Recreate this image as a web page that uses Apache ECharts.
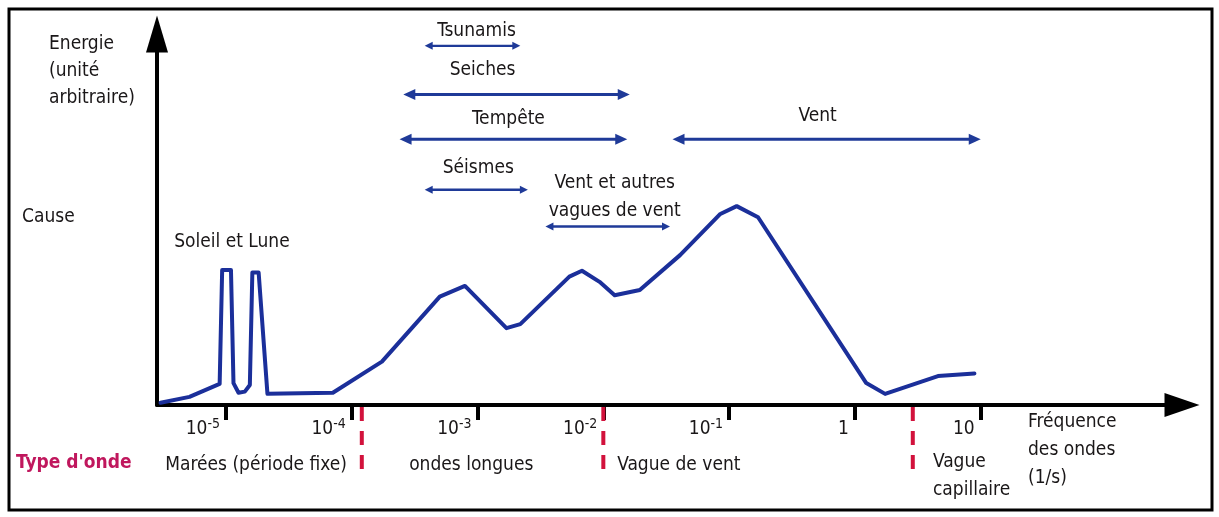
<!DOCTYPE html>
<html><head><meta charset="utf-8">
<script src="https://cdn.jsdelivr.net/npm/echarts@6/dist/echarts.min.js"></script>
<style>html,body{margin:0;padding:0;background:#fff}#c{width:1219px;height:517px}</style>
</head><body><div id="c"></div>
<script>
// ================= DATA =================
// x values are log10(frequency in 1/s); energy in arbitrary units (0-100)
const tickExponents = [-5, -4, -3, -2, -1, 0, 1];
const tickBase = ['10', '10', '10', '10', '10', '1', '10'];
const tickSup  = ['-5', '-4', '-3', '-2', '-1', '', ''];

const spectrumLogFreq = [-5.52, -5.29, -5.05, -5.03, -4.96, -4.94, -4.90, -4.85, -4.81, -4.79, -4.74, -4.67,
  -4.15, -3.76, -3.30, -3.10, -2.77, -2.66, -2.27, -2.17, -2.03, -1.91, -1.71, -1.39, -1.07, -0.94, -0.77,
  0.09, 0.24, 0.66, 0.95];
const spectrumEnergy = [0.6, 2.2, 5.7, 36.4, 36.4, 5.9, 3.3, 3.6, 5.4, 35.7, 35.7, 3.0,
  3.3, 11.7, 29.2, 32.1, 20.7, 21.8, 34.6, 36.2, 33.2, 29.6, 31.0, 40.4, 51.5, 53.6, 50.6,
  5.9, 3.0, 7.8, 8.5];

const causeNames = ['Tsunamis', 'Seiches', 'Tempête', 'Séismes', 'Vent', 'Vent et autres\nvagues de vent', 'Soleil et Lune'];
const causeFrom  = [-3.42, -3.59, -3.62, -3.42, -1.45, -2.46, -5.00];
const causeTo    = [-2.66, -1.79, -1.81, -2.60,  1.00, -1.47, -5.00];
const causeLevel = [96.8, 83.7, 71.6, 58.0, 71.6, 48.1, 36.4];

const waveTypeBounds = [-3.92, -2.00, 0.46];
const waveTypeNames = ['Marées (période fixe)', 'ondes longues', 'Vague de vent', 'Vague\ncapillaire'];
const waveTypeAt = [-4.76, -3.05, -1.40, 0.62];

// ================= STYLE =================
const FONT = "'Liberation Sans Narrow', 'DejaVu Sans Condensed', 'Noto Sans', sans-serif";
const TXT = '#1a1718';
const CURVE = '#1b2f9a';
const ARROW = '#1f3a98';
const RED = '#d2123c';
const causeDx = [4, -34, -5, 2, -9, 7, 6];
const causeDy = [-15, -24, -20, -22, -23, -29, -28];
const causeBig = [false, true, true, false, true, false, null];
const waveTypeAlign = ['center', 'center', 'center', 'left'];

const chart = echarts.init(document.getElementById('c'), null, {renderer: 'canvas'});

const option = {
  backgroundColor: '#fff',
  animation: false,
  grid: {left: 157, right: 37, top: 34, bottom: 112, containLabel: false},
  xAxis: {
    type: 'value', min: -5.548, max: 2.60,
    axisLine: {show: true, onZero: false, symbol: ['none', 'triangle'], symbolSize: [24, 35],
      lineStyle: {color: '#000', width: 4}},
    axisTick: {show: true, customValues: tickExponents, length: 15, inside: false,
      lineStyle: {color: '#000', width: 4}},
    axisLabel: {show: true, customValues: tickExponents, align: 'right', margin: 12,
      padding: [0, 6, 0, 0],
      formatter: function (v) {
        const i = tickExponents.indexOf(Math.round(v));
        if (i < 0) return '';
        return tickSup[i] ? '{b|' + tickBase[i] + '}{s|' + tickSup[i] + '}' : '{b|' + tickBase[i] + '}';
      },
      rich: {
        b: {fontFamily: FONT, fontSize: 19, color: TXT, lineHeight: 22, verticalAlign: 'bottom'},
        s: {fontFamily: FONT, fontSize: 14, color: TXT, lineHeight: 22, verticalAlign: 'top', padding: [0, 0, 8, 0]}
      }},
    splitLine: {show: false}
  },
  yAxis: {
    type: 'value', min: 0, max: 100,
    axisLine: {show: true, onZero: false, symbol: ['none', 'triangle'], symbolSize: [22, 37],
      lineStyle: {color: '#000', width: 4}},
    axisTick: {show: false}, axisLabel: {show: false}, splitLine: {show: false}
  },
  series: [
    {
      name: 'Spectre', type: 'line', symbol: 'none', smooth: false, z: 5,
      lineStyle: {color: CURVE, width: 4, join: 'round', cap: 'round'},
      data: spectrumLogFreq.map((x, i) => [x, spectrumEnergy[i]])
    },
    {
      name: 'Causes', type: 'custom', z: 6, clip: false,
      data: causeFrom.map((f, i) => [f, causeTo[i], causeLevel[i]]),
      renderItem: function (params, api) {
        const i = params.dataIndex;
        const p1 = api.coord([api.value(0), api.value(2)]);
        const p2 = api.coord([api.value(1), api.value(2)]);
        const children = [];
        if (causeBig[i] !== null) {
          const big = causeBig[i];
          const L = big ? 12 : 8, W = big ? 5.5 : 4;
          children.push(
            {type: 'line', shape: {x1: p1[0] + L * 0.6, y1: p1[1], x2: p2[0] - L * 0.6, y2: p2[1]},
              style: {stroke: ARROW, lineWidth: big ? 3 : 2.4}},
            {type: 'polygon', shape: {points: [[p1[0], p1[1]], [p1[0] + L, p1[1] - W], [p1[0] + L, p1[1] + W]]},
              style: {fill: ARROW}},
            {type: 'polygon', shape: {points: [[p2[0], p2[1]], [p2[0] - L, p2[1] - W], [p2[0] - L, p2[1] + W]]},
              style: {fill: ARROW}}
          );
        }
        children.push({type: 'text', x: (p1[0] + p2[0]) / 2 + causeDx[i], y: p1[1] + causeDy[i],
          style: {text: causeNames[i], fontFamily: FONT, fontSize: 19, fill: TXT,
            align: 'center', verticalAlign: 'middle', lineHeight: 28}});
        return {type: 'group', children: children};
      }
    },
    {
      name: 'Limites', type: 'custom', z: 4, clip: false,
      data: waveTypeBounds.map(b => [b, 0]),
      renderItem: function (params, api) {
        const p = api.coord([api.value(0), 0]);
        return {type: 'line', shape: {x1: p[0], y1: p[1] + 2, x2: p[0], y2: p[1] + 74},
          style: {stroke: RED, lineWidth: 4, lineDash: [14, 10]}};
      }
    },
    {
      name: 'Types', type: 'custom', z: 4, clip: false,
      data: waveTypeAt.map(a => [a, 0]),
      renderItem: function (params, api) {
        const i = params.dataIndex;
        const p = api.coord([api.value(0), 0]);
        const two = waveTypeNames[i].indexOf('\n') >= 0;
        return {type: 'text', x: p[0], y: p[1] + (two ? 71 : 60),
          style: {text: waveTypeNames[i], fontFamily: FONT, fontSize: 19, fill: TXT,
            align: waveTypeAlign[i], verticalAlign: 'middle', lineHeight: 28}};
      }
    }
  ],
  graphic: [
    {type: 'rect', shape: {x: 9, y: 9, width: 1203, height: 501},
      style: {fill: null, stroke: '#000', lineWidth: 3}, silent: true},
    {type: 'text', left: 49, top: 31,
      style: {text: 'Energie\n(unité\narbitraire)', fontFamily: FONT, fontSize: 19, fill: TXT, lineHeight: 27}},
    {type: 'text', left: 22, top: 208,
      style: {text: 'Cause', fontFamily: FONT, fontSize: 19, fill: TXT}},
    {type: 'text', left: 16, top: 454,
      style: {text: "Type d'onde", fontFamily: FONT, fontSize: 19, fontWeight: 'bold', fill: '#c0175d'}},
    {type: 'text', left: 1028, top: 408,
      style: {text: 'Fréquence\ndes ondes\n(1/s)', fontFamily: FONT, fontSize: 19, fill: TXT, lineHeight: 28}}
  ]
};
chart.setOption(option);
</script></body></html>
